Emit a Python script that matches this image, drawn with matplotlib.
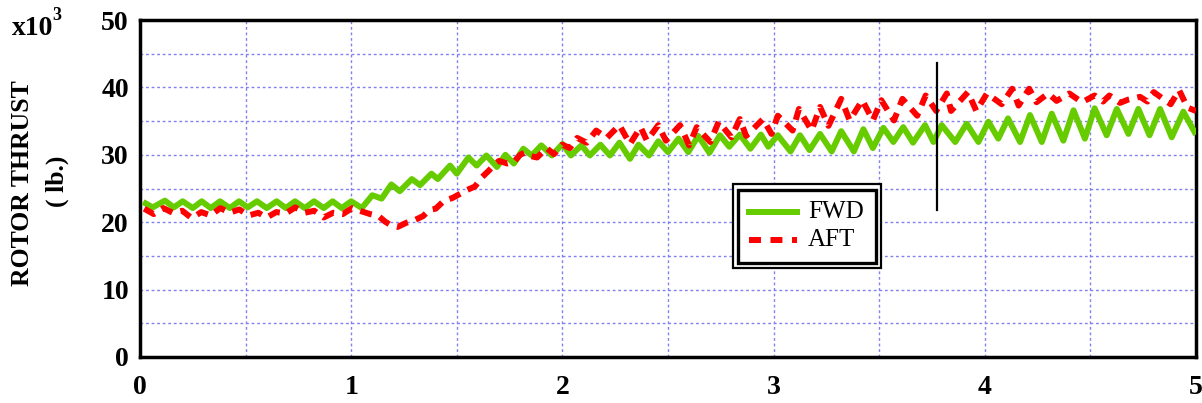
import matplotlib
matplotlib.use("Agg")
import matplotlib.pyplot as plt
from matplotlib.patches import Rectangle
from matplotlib.lines import Line2D

# ---- data (thousands of lb) ----
fwd_x = [0.015, 0.06, 0.118, 0.16, 0.202, 0.25, 0.292, 0.335, 0.379, 0.425, 0.469, 0.51,
         0.554, 0.60, 0.647, 0.69, 0.734, 0.78, 0.824, 0.87, 0.912, 0.955, 1.0, 1.05,
         1.10, 1.144, 1.19, 1.23, 1.287, 1.326, 1.38, 1.41, 1.468, 1.50, 1.555, 1.594,
         1.64, 1.69, 1.73, 1.77, 1.815, 1.855, 1.90, 1.95, 2.0, 2.04, 2.09, 2.13, 2.18,
         2.225, 2.27, 2.32, 2.36, 2.41, 2.454, 2.50, 2.55, 2.596, 2.643, 2.696, 2.746,
         2.79, 2.84, 2.89, 2.94, 2.975, 3.02, 3.08, 3.125, 3.17, 3.22, 3.275, 3.32, 3.38,
         3.425, 3.47, 3.52, 3.567, 3.614, 3.66, 3.717, 3.757, 3.796, 3.86, 3.914, 3.97,
         4.017, 4.064, 4.11, 4.167, 4.214, 4.27, 4.317, 4.372, 4.42, 4.474, 4.52, 4.577,
         4.625, 4.68, 4.727, 4.78, 4.83, 4.885, 4.94, 5.0]
fwd_y = [23.0, 22.2, 23.2, 22.2, 23.1, 22.1, 23.1, 22.1, 23.1, 22.1, 23.1, 22.2,
         23.1, 22.1, 23.1, 22.1, 23.1, 22.1, 23.1, 22.1, 23.1, 22.1, 23.1, 22.1,
         24.0, 23.5, 25.6, 24.6, 26.4, 25.5, 27.2, 26.4, 28.4, 27.2, 29.6, 28.4,
         29.9, 28.2, 30.0, 28.7, 30.9, 29.9, 31.4, 29.9, 31.6, 29.9, 31.4, 29.9, 31.5,
         29.9, 31.8, 29.4, 31.5, 29.9, 32.0, 30.4, 32.4, 30.4, 32.8, 30.3, 32.9,
         31.2, 33.0, 30.9, 33.0, 31.2, 32.9, 30.5, 32.9, 30.7, 33.1, 30.5, 33.5, 30.5,
         33.8, 31.0, 34.0, 31.9, 34.1, 31.8, 34.4, 31.9, 34.4, 31.9, 34.6, 31.9,
         34.9, 32.4, 35.4, 31.9, 35.9, 31.9, 36.1, 32.1, 36.6, 32.4, 36.9, 32.9,
         36.8, 33.1, 36.8, 32.9, 36.8, 32.6, 36.4, 33.0]

aft_x = [0.02, 0.065, 0.11, 0.155, 0.20, 0.245, 0.29, 0.335, 0.38, 0.425, 0.47, 0.515,
         0.56, 0.60, 0.645, 0.69, 0.735, 0.78, 0.825, 0.87, 0.915, 0.96, 1.005, 1.05,
         1.09, 1.13, 1.16, 1.19, 1.22, 1.26, 1.30, 1.34, 1.37, 1.40, 1.44, 1.48, 1.515,
         1.55, 1.586, 1.62, 1.65, 1.68, 1.70, 1.74, 1.77, 1.80, 1.82, 1.85, 1.88, 1.925,
         1.96, 2.0, 2.035, 2.07, 2.115, 2.16, 2.21, 2.27, 2.32, 2.37, 2.40, 2.454, 2.49,
         2.557, 2.60, 2.636, 2.70, 2.74, 2.80, 2.84, 2.87, 2.95, 2.99, 3.02, 3.09, 3.12,
         3.18, 3.22, 3.26, 3.32, 3.36, 3.42, 3.47, 3.51, 3.57, 3.61, 3.68, 3.72, 3.77,
         3.82, 3.84, 3.92, 3.96, 4.01, 4.08, 4.13, 4.16, 4.21, 4.245, 4.30, 4.34, 4.40,
         4.46, 4.52, 4.56, 4.59, 4.64, 4.68, 4.735, 4.77, 4.80, 4.88, 4.92, 4.96, 5.0]
aft_y = [22.0, 21.2, 22.1, 21.4, 21.7, 20.6, 21.5, 21.0, 22.1, 21.4, 21.9, 21.0,
         21.4, 20.7, 21.5, 21.3, 22.2, 21.4, 21.7, 20.7, 21.4, 21.2, 22.1, 21.6,
         21.2, 20.9, 20.1, 19.5, 19.3, 19.9, 20.3, 20.9, 21.8, 22.0, 23.2, 23.6, 24.2,
         24.8, 25.3, 26.7, 27.6, 28.6, 29.1, 28.7, 28.9, 30.0, 30.3, 29.8, 29.6, 31.0,
         30.1, 31.5, 31.0, 32.5, 31.8, 33.6, 32.5, 34.4, 31.6, 34.1, 32.1, 34.4, 32.1,
         34.4, 31.4, 34.1, 31.9, 34.9, 32.6, 35.3, 32.8, 35.3, 33.1, 35.8, 33.6, 36.8,
         33.6, 37.1, 34.3, 38.3, 35.1, 38.1, 35.1, 38.1, 35.1, 38.3, 35.8, 38.8, 36.5,
         39.1, 36.5, 39.3, 36.5, 39.1, 37.5, 39.8, 37.3, 39.8, 37.8, 39.1, 38.0, 39.1,
         37.8, 38.8, 37.9, 38.8, 37.7, 38.2, 38.6, 37.9, 39.3, 37.5, 39.6, 37.0, 36.5]

marker_x = 3.775
marker_y = [21.8, 43.6]

x_ticks = [0, 1, 2, 3, 4, 5]
y_ticks = [0, 10, 20, 30, 40, 50]
series_names = ["FWD", "AFT"]

GREEN = "#66cc00"
RED = "#ff0000"
GRID = "#8080f0"
SERIF = "Liberation Serif"

fig = plt.figure(figsize=(12.02, 4.03), dpi=100)
ax = fig.add_axes([140/1202, 46/403, 1056/1202, 337/403])

ax.set_xlim(0, 5)
ax.set_ylim(0, 50)

# grid
ax.set_xticks(x_ticks)
ax.set_yticks(y_ticks)
ax.set_xticks([0.5, 1.5, 2.5, 3.5, 4.5], minor=True)
ax.set_yticks([5, 15, 25, 35, 45], minor=True)
ax.grid(True, which="both", color=GRID, linestyle=(0, (2, 2)), linewidth=1.0)
ax.tick_params(which="both", length=0)
ax.tick_params(axis="x", pad=13)
ax.tick_params(axis="y", pad=8)
for lab in ax.get_xticklabels() + ax.get_yticklabels():
    lab.set_fontfamily(SERIF)
    lab.set_fontweight("bold")
    lab.set_fontsize(20)

for sp in ax.spines.values():
    sp.set_linewidth(2.5)
    sp.set_color("black")

ax.plot(fwd_x, fwd_y, color=GREEN, linewidth=4.3, solid_joinstyle="round",
        solid_capstyle="butt", zorder=3)
ax.plot(aft_x, aft_y, color=RED, linewidth=4.3, linestyle=(0, (2.0, 1.4)),
        dash_capstyle="butt", dash_joinstyle="round", zorder=4)
ax.plot([marker_x, marker_x], marker_y, color="black", linewidth=1.6, zorder=5)

# legend with double border
ax.add_patch(Rectangle((0.5616, 0.2641), 0.1401, 0.2493, transform=ax.transAxes,
                       facecolor="white", edgecolor="black", linewidth=1.6, zorder=6))
ax.add_patch(Rectangle((0.5663, 0.2789), 0.1307, 0.2166, transform=ax.transAxes,
                       facecolor="white", edgecolor="black", linewidth=2.4, zorder=7))
ly1 = (357 - 212) / 337
ly2 = (357 - 240) / 337
lx0 = (749 - 140) / 1056
lx1 = (797 - 140) / 1056
ax.add_line(Line2D([lx0, lx1], [ly1, ly1], transform=ax.transAxes, color=GREEN,
                   linewidth=4.3, zorder=8))
ax.add_line(Line2D([lx0, lx1], [ly2, ly2], transform=ax.transAxes, color=RED,
                   linewidth=4.3, linestyle=(0, (2.0, 1.6)), zorder=8))
tx = (808 - 140) / 1056
ax.text(tx, ly1, series_names[0], transform=ax.transAxes, fontfamily=SERIF,
        fontsize=18, va="center", ha="left", zorder=9)
ax.text(tx, ly2, series_names[1], transform=ax.transAxes, fontfamily=SERIF,
        fontsize=18, va="center", ha="left", zorder=9)

# axis labels
fig.text(23/1202, 1 - 183/403, "ROTOR THRUST", rotation=90, fontfamily=SERIF,
         fontweight="bold", fontsize=18.5, ha="center", va="center")
fig.text(57/1202, 1 - 181/403, "( lb.)", rotation=90, fontfamily=SERIF,
         fontweight="bold", fontsize=18.5, ha="center", va="center")
fig.text(12/1202, 1 - 35/403, "x10", fontfamily=SERIF, fontweight="bold",
         fontsize=20, ha="left", va="baseline")
fig.text(52/1202, 1 - 20/403, "3", fontfamily=SERIF, fontweight="bold",
         fontsize=13, ha="left", va="baseline")

fig.savefig("out.png", dpi=100)
